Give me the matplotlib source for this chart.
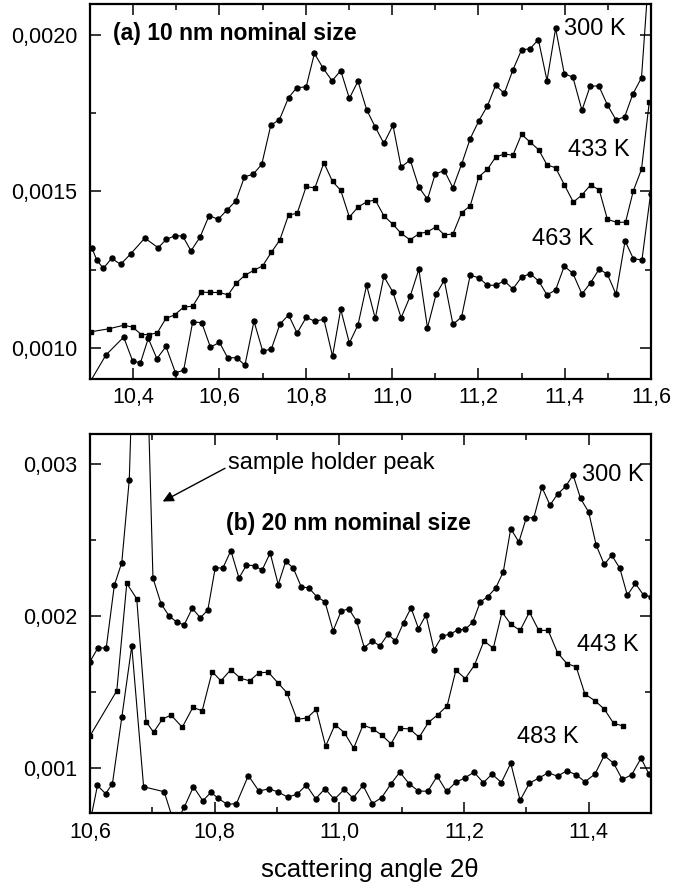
import matplotlib
matplotlib.use("Agg")
import matplotlib.pyplot as plt
from matplotlib.ticker import MultipleLocator, FuncFormatter

plt.rcParams["font.family"] = ["Liberation Sans", "DejaVu Sans"]

# (a) 10 nm nominal size
a_x_300 = [10.304, 10.316, 10.331, 10.350, 10.371, 10.394, 10.427, 10.458, 10.477, 10.498,
           10.515, 10.534, 10.555, 10.576, 10.597, 10.617, 10.638, 10.658, 10.678, 10.698,
           10.719, 10.739, 10.760, 10.779, 10.801, 10.820, 10.840, 10.861, 10.881, 10.901,
           10.921, 10.941, 10.961, 10.981, 11.002, 11.021, 11.042, 11.062, 11.082, 11.100,
           11.121, 11.141, 11.161, 11.181, 11.201, 11.221, 11.240, 11.260, 11.280, 11.300,
           11.320, 11.339, 11.359, 11.379, 11.399, 11.419, 11.440, 11.459, 11.479, 11.499,
           11.519, 11.539, 11.558, 11.578, 11.597]
a_y_300 = [0.001320, 0.001280, 0.001254, 0.001286, 0.001267, 0.001300, 0.001351, 0.001320, 0.001347, 0.001359,
           0.001357, 0.001310, 0.001354, 0.001423, 0.001411, 0.001440, 0.001470, 0.001547, 0.001555, 0.001587,
           0.001712, 0.001730, 0.001800, 0.001832, 0.001835, 0.001942, 0.001895, 0.001854, 0.001887, 0.001798,
           0.001853, 0.001762, 0.001706, 0.001654, 0.001712, 0.001578, 0.001601, 0.001514, 0.001475, 0.001556,
           0.001567, 0.001512, 0.001587, 0.001669, 0.001726, 0.001774, 0.001840, 0.001814, 0.001889, 0.001953,
           0.001957, 0.001986, 0.001855, 0.002022, 0.001877, 0.001866, 0.001760, 0.001837, 0.001838, 0.001777,
           0.001729, 0.001739, 0.001812, 0.001864, 0.002238]

a_x_433 = [10.302, 10.345, 10.378, 10.399, 10.419, 10.437, 10.456, 10.476, 10.496, 10.517,
           10.538, 10.558, 10.578, 10.600, 10.620, 10.639, 10.659, 10.680, 10.700, 10.720,
           10.740, 10.760, 10.780, 10.801, 10.821, 10.842, 10.862, 10.881, 10.901, 10.921,
           10.941, 10.961, 10.981, 11.002, 11.021, 11.042, 11.062, 11.082, 11.102, 11.121,
           11.141, 11.161, 11.181, 11.201, 11.221, 11.240, 11.260, 11.280, 11.300, 11.320,
           11.340, 11.359, 11.379, 11.399, 11.420, 11.440, 11.460, 11.480, 11.499, 11.521,
           11.541, 11.559, 11.578, 11.596]
a_y_433 = [0.001051, 0.001061, 0.001072, 0.001066, 0.001042, 0.001042, 0.001048, 0.001094, 0.001105, 0.001130,
           0.001133, 0.001178, 0.001177, 0.001177, 0.001169, 0.001207, 0.001232, 0.001248, 0.001262, 0.001305,
           0.001345, 0.001425, 0.001430, 0.001516, 0.001511, 0.001592, 0.001532, 0.001504, 0.001418, 0.001450,
           0.001467, 0.001473, 0.001422, 0.001395, 0.001366, 0.001345, 0.001365, 0.001371, 0.001387, 0.001361,
           0.001364, 0.001432, 0.001454, 0.001547, 0.001571, 0.001610, 0.001620, 0.001616, 0.001683, 0.001658,
           0.001633, 0.001585, 0.001576, 0.001522, 0.001466, 0.001489, 0.001521, 0.001505, 0.001411, 0.001401,
           0.001402, 0.001502, 0.001571, 0.001787]

a_x_463 = [10.302, 10.337, 10.378, 10.399, 10.417, 10.435, 10.455, 10.476, 10.498, 10.517,
           10.538, 10.559, 10.579, 10.600, 10.619, 10.640, 10.659, 10.680, 10.700, 10.720,
           10.740, 10.760, 10.780, 10.801, 10.821, 10.842, 10.862, 10.881, 10.901, 10.921,
           10.941, 10.961, 10.981, 11.002, 11.021, 11.042, 11.062, 11.082, 11.102, 11.121,
           11.141, 11.161, 11.181, 11.201, 11.221, 11.240, 11.260, 11.280, 11.300, 11.320,
           11.340, 11.359, 11.379, 11.399, 11.419, 11.440, 11.460, 11.480, 11.499, 11.519,
           11.540, 11.559, 11.579, 11.599]
a_y_463 = [0.000895, 0.000977, 0.001034, 0.000957, 0.000952, 0.001030, 0.000965, 0.001004, 0.000920, 0.000928,
           0.001083, 0.001080, 0.001002, 0.001017, 0.000968, 0.000968, 0.000944, 0.001085, 0.000990, 0.000995,
           0.001075, 0.001105, 0.001047, 0.001097, 0.001085, 0.001091, 0.000973, 0.001123, 0.001015, 0.001073,
           0.001200, 0.001094, 0.001228, 0.001178, 0.001096, 0.001165, 0.001251, 0.001064, 0.001171, 0.001216,
           0.001075, 0.001098, 0.001232, 0.001224, 0.001200, 0.001200, 0.001214, 0.001188, 0.001226, 0.001237,
           0.001213, 0.001169, 0.001185, 0.001261, 0.001238, 0.001172, 0.001208, 0.001252, 0.001235, 0.001171,
           0.001342, 0.001285, 0.001281, 0.001492]

# (b) 20 nm nominal size
b_x_300 = [10.600, 10.613, 10.626, 10.639, 10.651, 10.663, 10.675, 10.688, 10.701, 10.714,
           10.727, 10.739, 10.751, 10.764, 10.777, 10.789, 10.801, 10.813, 10.826, 10.839,
           10.851, 10.864, 10.876, 10.889, 10.902, 10.914, 10.926, 10.939, 10.951, 10.964,
           10.977, 10.990, 11.003, 11.015, 11.028, 11.040, 11.053, 11.065, 11.078, 11.090,
           11.103, 11.115, 11.127, 11.139, 11.152, 11.165, 11.177, 11.190, 11.202, 11.214,
           11.226, 11.238, 11.251, 11.263, 11.275, 11.288, 11.300, 11.312, 11.325, 11.338,
           11.350, 11.363, 11.375, 11.387, 11.400, 11.412, 11.425, 11.437, 11.450, 11.462,
           11.475, 11.488, 11.500]
b_y_300 = [0.001700, 0.001792, 0.001788, 0.002202, 0.002353, 0.002898, 0.004500, 0.004200, 0.002251, 0.002081,
           0.002000, 0.001961, 0.001941, 0.002051, 0.001989, 0.002039, 0.002320, 0.002315, 0.002431, 0.002251,
           0.002335, 0.002333, 0.002302, 0.002416, 0.002208, 0.002361, 0.002317, 0.002192, 0.002186, 0.002127,
           0.002094, 0.001903, 0.002033, 0.002048, 0.001965, 0.001792, 0.001836, 0.001803, 0.001880, 0.001836,
           0.001956, 0.002054, 0.001918, 0.002007, 0.001777, 0.001869, 0.001880, 0.001908, 0.001913, 0.001959,
           0.002092, 0.002127, 0.002186, 0.002291, 0.002576, 0.002488, 0.002648, 0.002648, 0.002849, 0.002731,
           0.002803, 0.002854, 0.002930, 0.002775, 0.002685, 0.002468, 0.002340, 0.002401, 0.002315, 0.002138,
           0.002215, 0.002138, 0.002127]

b_x_443 = [10.600, 10.643, 10.659, 10.675, 10.690, 10.702, 10.716, 10.730, 10.748, 10.765,
           10.780, 10.796, 10.810, 10.826, 10.841, 10.856, 10.871, 10.886, 10.901, 10.916,
           10.932, 10.948, 10.963, 10.978, 10.993, 11.008, 11.023, 11.038, 11.054, 11.068,
           11.083, 11.097, 11.113, 11.128, 11.143, 11.158, 11.173, 11.187, 11.202, 11.217,
           11.232, 11.247, 11.261, 11.275, 11.290, 11.305, 11.320, 11.335, 11.350, 11.365,
           11.380, 11.394, 11.410, 11.425, 11.440, 11.455]
b_y_443 = [0.001210, 0.001508, 0.002215, 0.002114, 0.001304, 0.001234, 0.001320, 0.001348, 0.001267, 0.001398,
           0.001376, 0.001634, 0.001573, 0.001647, 0.001591, 0.001573, 0.001626, 0.001630, 0.001562, 0.001494,
           0.001319, 0.001328, 0.001385, 0.001142, 0.001284, 0.001232, 0.001129, 0.001282, 0.001256, 0.001215,
           0.001158, 0.001260, 0.001256, 0.001201, 0.001299, 0.001350, 0.001409, 0.001643, 0.001588, 0.001678,
           0.001836, 0.001788, 0.002026, 0.001947, 0.001905, 0.002026, 0.001905, 0.001906, 0.001759, 0.001687,
           0.001665, 0.001486, 0.001442, 0.001387, 0.001293, 0.001276]

b_x_483 = [10.601, 10.612, 10.625, 10.636, 10.651, 10.667, 10.686, 10.719, 10.736, 10.751,
           10.766, 10.781, 10.794, 10.806, 10.820, 10.835, 10.854, 10.871, 10.887, 10.902,
           10.917, 10.932, 10.947, 10.962, 10.977, 10.992, 11.008, 11.022, 11.038, 11.053,
           11.068, 11.083, 11.097, 11.112, 11.127, 11.142, 11.157, 11.172, 11.187, 11.201,
           11.216, 11.231, 11.245, 11.260, 11.275, 11.290, 11.305, 11.320, 11.335, 11.350,
           11.365, 11.380, 11.394, 11.410, 11.425, 11.440, 11.454, 11.469, 11.484, 11.497]
b_y_483 = [0.000660, 0.000884, 0.000829, 0.000895, 0.001332, 0.001803, 0.000875, 0.000842, 0.000621, 0.000739,
           0.000875, 0.000782, 0.000838, 0.000798, 0.000759, 0.000764, 0.000949, 0.000846, 0.000862, 0.000840,
           0.000807, 0.000825, 0.000886, 0.000796, 0.000862, 0.000792, 0.000858, 0.000800, 0.000884, 0.000764,
           0.000804, 0.000895, 0.000971, 0.000895, 0.000846, 0.000846, 0.000945, 0.000844, 0.000905, 0.000932,
           0.000971, 0.000902, 0.000958, 0.000903, 0.001030, 0.000785, 0.000899, 0.000932, 0.000967, 0.000945,
           0.000980, 0.000954, 0.000908, 0.000958, 0.001081, 0.001030, 0.000923, 0.000954, 0.001063, 0.000956]


def comma_fmt(fmt):
    return FuncFormatter(lambda v, pos: format(v, fmt).replace(".", ","))


def style_axes(ax, xlim, ylim, ymaj, ymin, yfmt):
    ax.set_xlim(*xlim)
    ax.set_ylim(*ylim)
    ax.xaxis.set_major_locator(MultipleLocator(0.2))
    ax.xaxis.set_minor_locator(MultipleLocator(0.1))
    ax.yaxis.set_major_locator(MultipleLocator(ymaj))
    ax.yaxis.set_minor_locator(MultipleLocator(ymin))
    ax.xaxis.set_major_formatter(comma_fmt(".1f"))
    ax.yaxis.set_major_formatter(comma_fmt(yfmt))
    ax.tick_params(which="both", direction="in", top=True, right=True, width=1.1, labelsize=15.5)
    ax.tick_params(which="major", length=8)
    ax.tick_params(which="minor", length=4)
    ax.tick_params(axis="x", pad=6)
    ax.tick_params(axis="y", pad=9)
    for sp in ax.spines.values():
        sp.set_linewidth(1.6)


line_kw = dict(color="black", lw=0.8, mfc="black", mec="black")

fig = plt.figure(figsize=(6.96, 8.96), dpi=100)
ax1 = fig.add_axes([90 / 696, 1 - 379 / 896, 561 / 696, 375 / 896])
ax2 = fig.add_axes([90 / 696, 1 - 813.3 / 896, 561 / 696, 379.3 / 896])

# top panel
ax1.plot(a_x_300, a_y_300, marker="o", ms=3.6, **line_kw)
ax1.plot(a_x_433, a_y_433, marker="s", ms=3.3, **line_kw)
ax1.plot(a_x_463, a_y_463, marker="o", ms=3.6, **line_kw)
style_axes(ax1, (10.3, 11.6), (0.0009, 0.0021), 0.0005, 0.00025, ".4f")

ax1.text(0.0415, 0.922, "(a) 10 nm nominal size", transform=ax1.transAxes,
         fontsize=16.5, fontweight="bold", ha="left", va="center")
ax1.text(0.845, 0.9325, "300 K", transform=ax1.transAxes, fontsize=17, ha="left", va="center")
ax1.text(0.852, 0.611, "433 K", transform=ax1.transAxes, fontsize=17, ha="left", va="center")
ax1.text(0.787, 0.3725, "463 K", transform=ax1.transAxes, fontsize=17, ha="left", va="center")

# bottom panel
ax2.plot(b_x_300, b_y_300, marker="o", ms=3.6, **line_kw)
ax2.plot(b_x_443, b_y_443, marker="s", ms=3.3, **line_kw)
ax2.plot(b_x_483, b_y_483, marker="o", ms=3.6, **line_kw)
style_axes(ax2, (10.6, 11.5), (0.0007, 0.0032), 0.001, 0.0005, ".3f")

ax2.text(0.2465, 0.9228, "sample holder peak", transform=ax2.transAxes,
         fontsize=17, ha="left", va="center")
ax2.annotate("", xy=(10.7166, 0.002755), xytext=(10.8166, 0.002974),
             arrowprops=dict(arrowstyle="-|>", color="black", lw=1.0,
                             mutation_scale=16, shrinkA=0, shrinkB=0))
ax2.text(0.2424, 0.7646, "(b) 20 nm nominal size", transform=ax2.transAxes,
         fontsize=16.5, fontweight="bold", ha="left", va="center")
ax2.text(0.8765, 0.8919, "300 K", transform=ax2.transAxes, fontsize=17, ha="left", va="center")
ax2.text(0.8675, 0.4437, "443 K", transform=ax2.transAxes, fontsize=17, ha="left", va="center")
ax2.text(0.7617, 0.2004, "483 K", transform=ax2.transAxes, fontsize=17, ha="left", va="center")

fig.text(370 / 696, 1 - 870 / 896, "scattering angle 2θ", ha="center", va="center", fontsize=18.5)

fig.savefig("out.png", dpi=100)
